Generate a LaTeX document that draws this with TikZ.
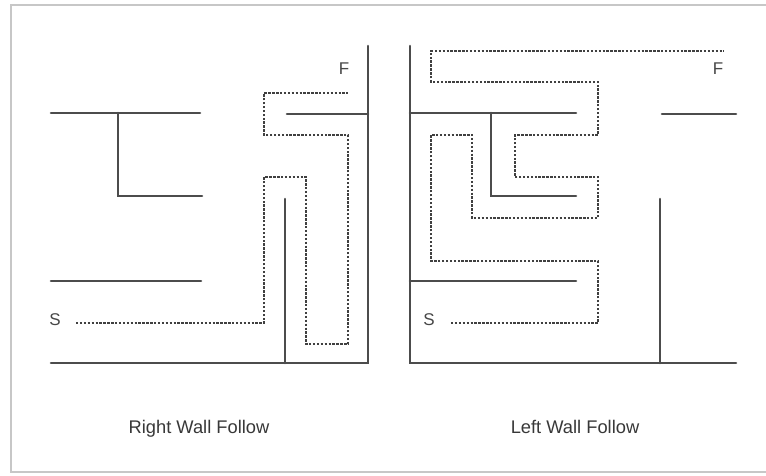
\documentclass[tikz,border=0pt]{standalone}
\usepackage{fontspec}
\setmainfont{Liberation Sans}
\begin{document}
\begin{tikzpicture}[x=1pt,y=-1pt,
  wall/.style={draw=black!70,line width=2.6pt,line cap=round,line join=miter},
  route/.style={draw=black!75,line width=1.9pt,dash pattern=on 2.4pt off 1.5pt},
  frameline/.style={draw=black!22,line width=2.4pt},
  caption/.style={text=black!78,font=\fontsize{18.3}{22}\selectfont,inner sep=0pt,anchor=base},
  endlabel/.style={text=black!72,font=\fontsize{17}{20}\selectfont,inner sep=0pt,anchor=base}]
\useasboundingbox (0,0) rectangle (766,476);
\fill[white] (0,0) rectangle (766,476);
% frame
\draw[frameline] (770,5) -- (11,5) -- (11,472) -- (770,472);
% ---------- left maze (right wall follow) ----------
\draw[wall] (51,113) -- (200,113);
\draw[wall] (118,113) -- (118,196) -- (202,196);
\draw[wall] (368,46) -- (368,363) -- (51,363);
\draw[wall] (287,114) -- (368,114);
\draw[wall] (285,199) -- (285,363);
\draw[wall] (51,281) -- (201,281);
\draw[route] (76,323) -- (264,323) -- (264,177) -- (306,177) -- (306,344)
  -- (348,344) -- (348,135) -- (264,135) -- (264,93) -- (348,93);
\node[endlabel] (S1) at (55,325) {S};
\node[endlabel] (F1) at (344,75) {F};
\node[caption] (cap1) at (199,433) {Right Wall Follow};
% ---------- right maze (left wall follow) ----------
\draw[wall] (410,46) -- (410,363) -- (736,363);
\draw[wall] (410,113) -- (576,113);
\draw[wall] (491,113) -- (491,196) -- (576,196);
\draw[wall] (662,114) -- (736,114);
\draw[wall] (660,199) -- (660,363);
\draw[wall] (410,281) -- (576,281);
\draw[route] (451,323) -- (598,323) -- (598,261) -- (431,261) -- (431,135)
  -- (472,135) -- (472,218) -- (598,218) -- (598,177) -- (515,177)
  -- (515,135) -- (598,135) -- (598,82) -- (431,82) -- (431,51) -- (724,51);
\node[endlabel] (S2) at (429,325) {S};
\node[endlabel] (F2) at (718,75) {F};
\node[caption] (cap2) at (575,433) {Left Wall Follow};
\end{tikzpicture}
\end{document}
